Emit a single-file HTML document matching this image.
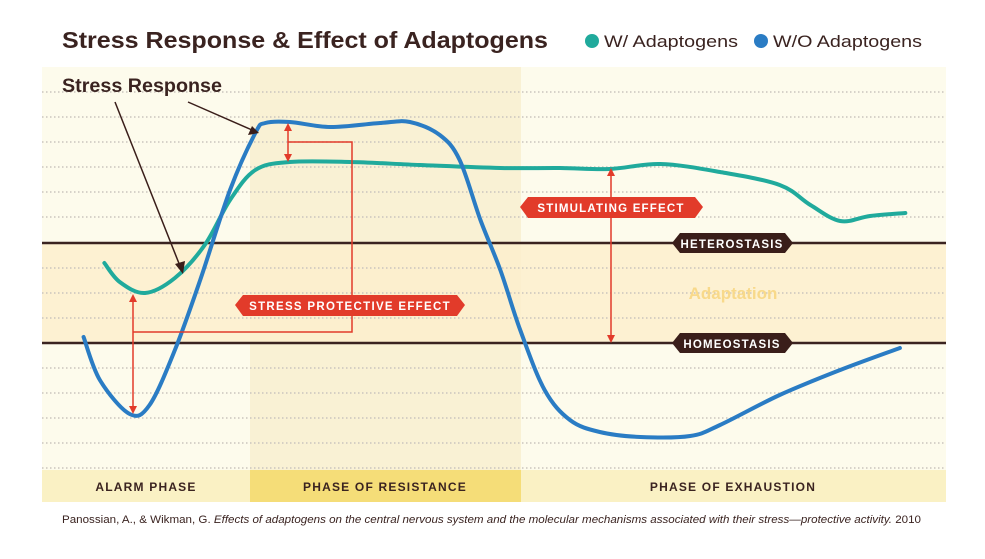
<!DOCTYPE html>
<html><head><meta charset="utf-8"><style>
body{margin:0;background:#fff;font-family:"Liberation Sans",sans-serif}
svg text{font-family:"Liberation Sans",sans-serif}
</style></head><body>
<svg width="985" height="554" viewBox="0 0 985 554">
<rect x="0" y="0" width="985" height="554" fill="#fff"/>
<text x="62" y="48" font-size="23" font-weight="bold" fill="#3a2320" textLength="486" lengthAdjust="spacingAndGlyphs">Stress Response &amp; Effect of Adaptogens</text>
<g>
<circle cx="592" cy="41" r="7" fill="#20aa9c"/>
<text x="604" y="47" font-size="17" fill="#3a2320" textLength="134" lengthAdjust="spacingAndGlyphs">W/ Adaptogens</text>
<circle cx="761" cy="41" r="7" fill="#2a7cc4"/>
<text x="773" y="47" font-size="17" fill="#3a2320" textLength="149" lengthAdjust="spacingAndGlyphs">W/O Adaptogens</text>
</g>
<rect x="42" y="67" width="904" height="403" fill="#fdfbec"/>
<rect x="250" y="67" width="271" height="403" fill="#f9f1d4"/>
<rect x="42" y="243" width="904" height="100" fill="#fdefcc" opacity="0.8"/>
<g id="grid"></g>
<line x1="42" y1="243" x2="946" y2="243" stroke="#3a2320" stroke-width="2.5"/>
<line x1="42" y1="343" x2="946" y2="343" stroke="#3a2320" stroke-width="2.5"/>
<text x="733" y="299" font-size="17" font-weight="bold" fill="#f8d98a" text-anchor="middle">Adaptation</text>
<g id="series"></g>
<g stroke="#e23b2a" stroke-width="1.5" fill="none">
<polyline points="288,142 352,142 352,332 133,332"/>
<line x1="288" y1="128" x2="288" y2="158"/>
<line x1="133" y1="298" x2="133" y2="410"/>
<line x1="611" y1="172" x2="611" y2="340"/>
</g>
<g fill="#e23b2a">
<polygon points="288,123 284,131 292,131"/><polygon points="288,162 284,154 292,154"/>
<polygon points="133,294 129,302 137,302"/><polygon points="133,414 129,406 137,406"/>
<polygon points="611,168 607,176 615,176"/><polygon points="611,343 607,335 615,335"/>
</g>
<g>
<polygon points="235,305 243,295 457,295 465,305 457,316 243,316" fill="#e23b2a"/>
<text x="350" y="310" font-size="11.5" font-weight="bold" fill="#fff" text-anchor="middle" letter-spacing="1.3">STRESS PROTECTIVE EFFECT</text>
</g>
<g>
<polygon points="520,207 528,197 695,197 703,207 695,218 528,218" fill="#e23b2a"/>
<text x="611" y="212" font-size="11.5" font-weight="bold" fill="#fff" text-anchor="middle" letter-spacing="1.2">STIMULATING EFFECT</text>
</g>
<g>
<polygon points="672,243 680,233 785,233 793,243 785,253 680,253" fill="#3a1e1a"/>
<text x="732" y="248" font-size="11.5" font-weight="bold" fill="#fff" text-anchor="middle" letter-spacing="1.2">HETEROSTASIS</text>
</g>
<g>
<polygon points="672,343 680,333 785,333 793,343 785,353 680,353" fill="#3a1e1a"/>
<text x="732" y="348" font-size="11.5" font-weight="bold" fill="#fff" text-anchor="middle" letter-spacing="1.2">HOMEOSTASIS</text>
</g>
<text x="62" y="92" font-size="19" font-weight="bold" fill="#3a2320" textLength="160" lengthAdjust="spacingAndGlyphs">Stress Response</text>
<g stroke="#3a1e1a" stroke-width="1.5">
<line x1="115" y1="102" x2="180" y2="266"/><line x1="188" y1="102" x2="252" y2="130"/>
</g>
<g fill="#3a1e1a"><polygon points="183,274 175,264 185,261"/><polygon points="259,133 248,135 252,126"/></g>
<g>
<rect x="42" y="470" width="208" height="32" fill="#faf1c4"/>
<rect x="250" y="470" width="271" height="32" fill="#f5dd78"/>
<rect x="521" y="470" width="425" height="32" fill="#faf1c4"/>
<text x="146" y="491" font-size="12" font-weight="bold" fill="#3a2320" text-anchor="middle" letter-spacing="1.2">ALARM PHASE</text>
<text x="385" y="491" font-size="12" font-weight="bold" fill="#3a2320" text-anchor="middle" letter-spacing="1.2">PHASE OF RESISTANCE</text>
<text x="733" y="491" font-size="12" font-weight="bold" fill="#3a2320" text-anchor="middle" letter-spacing="1.2">PHASE OF EXHAUSTION</text>
</g>
<text x="62" y="523" font-size="11" fill="#3a2320" textLength="859" lengthAdjust="spacingAndGlyphs">Panossian, A., &amp; Wikman, G. <tspan font-style="italic">Effects of adaptogens on the central nervous system and the molecular mechanisms associated with their stress—protective activity.</tspan> 2010</text>
</svg>
<script>
const gridLevels=[2.51,2.26,2.01,1.76,1.51,1.26,0.75,0.5,0.25,-0.25,-0.5,-0.75,-1.0,-1.25];
const tealTime=[6.9,8.6,11.4,14.7,18.0,20.8,23.6,27.4,34.1,41.8,50.7,57.3,62.8,68.4,75.0,81.6,85.0,88.3,91.6,95.5];
const tealLevel=[0.80,0.61,0.50,0.65,0.98,1.43,1.73,1.81,1.81,1.78,1.75,1.75,1.74,1.79,1.71,1.58,1.38,1.22,1.27,1.30];
const blueTime=[4.6,6.4,9.7,11.9,14.7,17.5,20.8,23.6,24.7,27.4,31.9,37.4,40.7,44.0,46.2,48.5,50.7,52.9,55.6,58.4,61.7,66.2,71.7,75.0,81.6,88.3,94.9];
const blueLevel=[0.06,-0.37,-0.71,-0.62,-0.07,0.63,1.53,2.10,2.20,2.21,2.16,2.20,2.21,2.08,1.83,1.23,0.73,0.13,-0.47,-0.77,-0.89,-0.94,-0.93,-0.82,-0.52,-0.27,-0.05];
const xs=t=>42+t*9.04, ys=v=>343-v*100;
const NS="http://www.w3.org/2000/svg";
const grid=document.getElementById('grid');
gridLevels.forEach(v=>{const l=document.createElementNS(NS,'line');
l.setAttribute('x1',42);l.setAttribute('x2',946);l.setAttribute('y1',ys(v));l.setAttribute('y2',ys(v));
l.setAttribute('stroke','#c9c4bd');l.setAttribute('stroke-width',1.5);l.setAttribute('stroke-dasharray','1.5 2.5');


grid.appendChild(l);});
function smooth(T,V){const p=T.map((t,i)=>[xs(t),ys(V[i])]);let d='M'+p[0].join(',');
for(let i=0;i<p.length-1;i++){const a=p[i-1]||p[i],b=p[i],c=p[i+1],e=p[i+2]||c;
d+=` C${b[0]+(c[0]-a[0])/6},${b[1]+(c[1]-a[1])/6} ${c[0]-(e[0]-b[0])/6},${c[1]-(e[1]-b[1])/6} ${c[0]},${c[1]}`;}return d;}
const s=document.getElementById('series');
const t=document.createElementNS(NS,'path');t.setAttribute('d',smooth(tealTime,tealLevel));
t.setAttribute('fill','none');t.setAttribute('stroke','#20aa9c');t.setAttribute('stroke-width',4);t.setAttribute('stroke-linecap','round');


s.appendChild(t);
const b=document.createElementNS(NS,'path');b.setAttribute('d',smooth(blueTime,blueLevel));
b.setAttribute('fill','none');b.setAttribute('stroke','#2a7cc4');b.setAttribute('stroke-width',4);b.setAttribute('stroke-linecap','round');


s.appendChild(b);
</script>
</body></html>
